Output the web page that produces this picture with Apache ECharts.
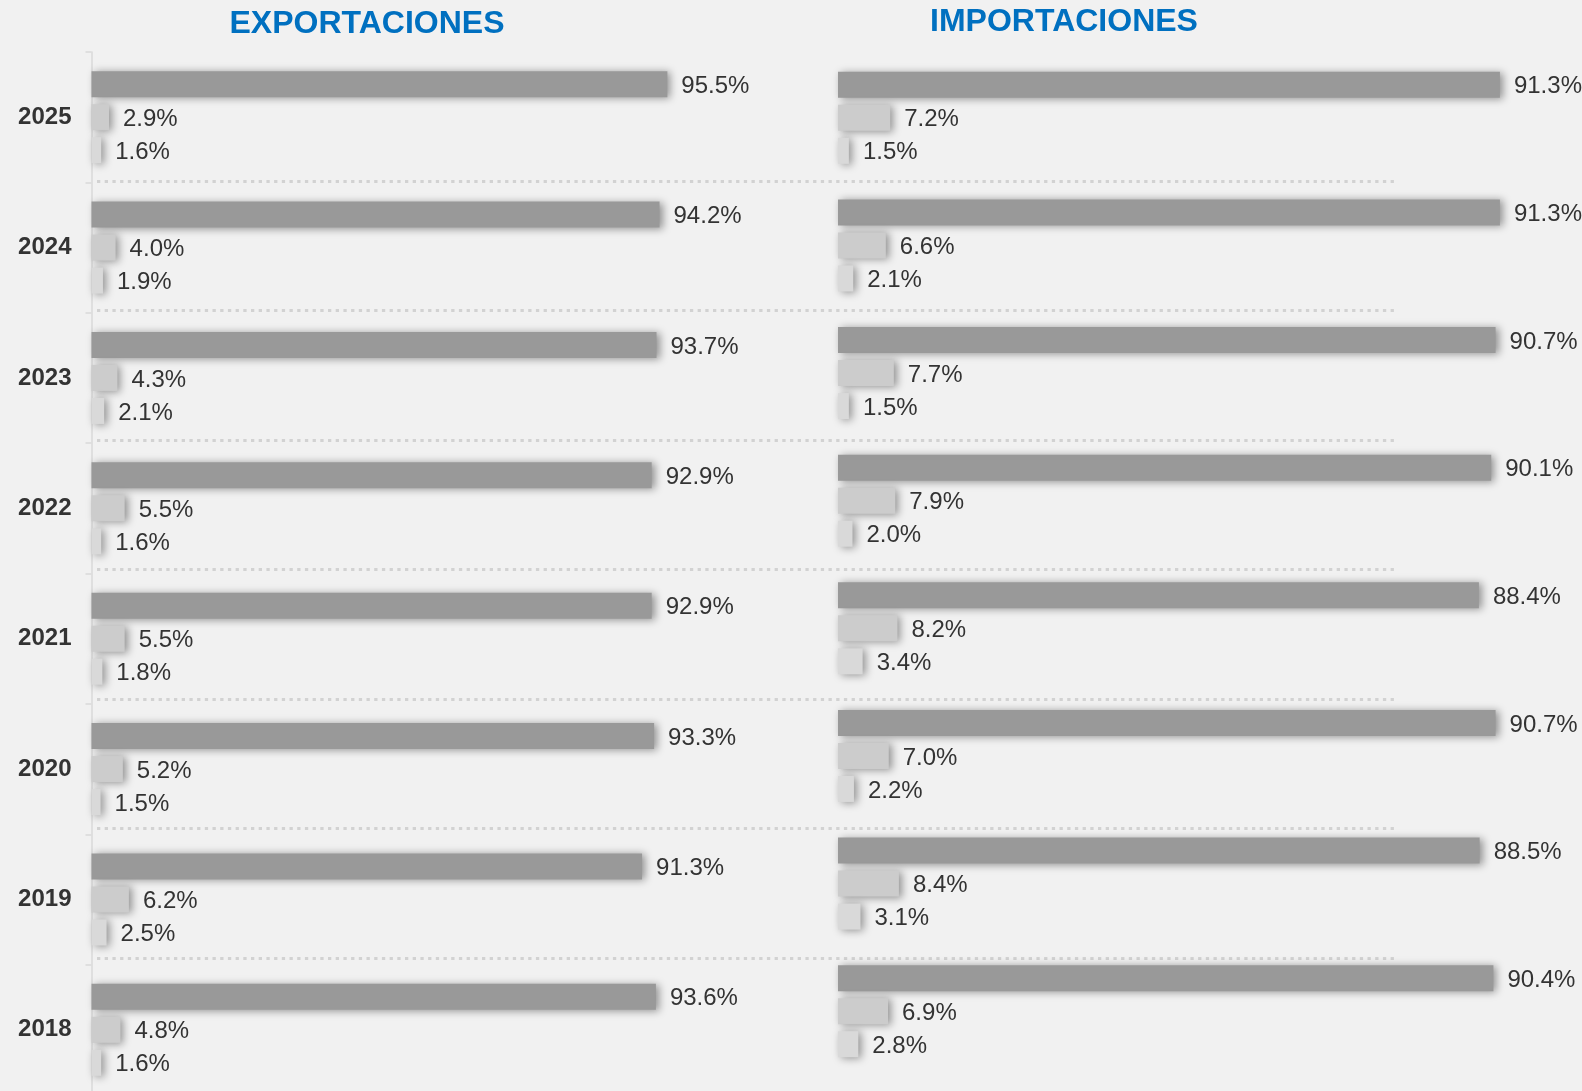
<!DOCTYPE html>
<html>
<head>
<meta charset="utf-8">
<title>Exportaciones e Importaciones</title>
<script src="https://cdn.jsdelivr.net/npm/echarts@6/dist/echarts.min.js"></script>
<style>
  html, body { margin: 0; padding: 0; background: #f1f1f1; overflow: hidden; }
  #chart { width: 1582px; height: 1110px; }
</style>
</head>
<body>
<div id="chart"></div>
<script>
// years, top to bottom
const years = ['2025', '2024', '2023', '2022', '2021', '2020', '2019', '2018'];

// exportaciones (%)
const expMain = [95.5, 94.2, 93.7, 92.9, 92.9, 93.3, 91.3, 93.6];
const expSecond = [2.9, 4.0, 4.3, 5.5, 5.5, 5.2, 6.2, 4.8];
const expThird = [1.6, 1.9, 2.1, 1.6, 1.8, 1.5, 2.5, 1.6];

// importaciones (%)
const impMain = [91.3, 91.3, 90.7, 90.1, 88.4, 90.7, 88.5, 90.4];
const impSecond = [7.2, 6.6, 7.7, 7.9, 8.2, 7.0, 8.4, 6.9];
const impThird = [1.5, 2.1, 1.5, 2.0, 3.4, 2.2, 3.1, 2.8];

const colors = ['#999999', '#cccccc', '#d9d9d9'];
const font = 'Liberation Sans, Arial, sans-serif';

const chart = echarts.init(document.getElementById('chart'));

function barSeries(data, color, axisIndex) {
	return {
		type: 'bar',
		xAxisIndex: axisIndex,
		yAxisIndex: axisIndex,
		data: data,
		barWidth: 26,
		barGap: '27%',
		itemStyle: {
			color: color,
			shadowBlur: 8,
			shadowColor: 'rgba(0, 0, 0, 0.4)',
			shadowOffsetX: 3,
			shadowOffsetY: 1
		},
		label: {
			show: true,
			position: 'right',
			distance: 14,
			offset: [0, 2],
			fontFamily: font,
			fontSize: 24,
			color: '#333333',
			formatter: function (p) {
				return p.value.toFixed(1) + '%';
			}
		},
		animation: false
	};
}

const option = {
	backgroundColor: '#f1f1f1',
	title: [
		{
			text: 'EXPORTACIONES',
			left: 362,
			top: 3,
			textAlign: 'center',
			textStyle: { fontFamily: font, fontSize: 32, fontWeight: 'bold', color: '#0070c0' }
		},
		{
			text: 'IMPORTACIONES',
			left: 1059,
			top: 1,
			textAlign: 'center',
			textStyle: { fontFamily: font, fontSize: 32, fontWeight: 'bold', color: '#0070c0' }
		}
	],
	grid: [
		{ left: 91.5, top: 52, width: 603, height: 1043 },
		{ left: 838, top: 54, width: 725, height: 1021 },
		// separators between year groups
		{ left: 97, top: 181, width: 1301, height: 777 }
	],
	xAxis: [
		{ gridIndex: 0, type: 'value', min: 0, max: 100, show: false },
		{ gridIndex: 1, type: 'value', min: 0, max: 100, show: false },
		{ gridIndex: 2, type: 'value', min: 0, max: 100, show: false }
	],
	yAxis: [
		{
			gridIndex: 0,
			type: 'category',
			data: years,
			inverse: true,
			axisLine: { show: true, lineStyle: { color: '#d9d9d9', width: 1.5 } },
			axisTick: { show: true, length: 6, lineStyle: { color: '#d9d9d9', width: 1.5 } },
			axisLabel: {
				margin: 20,
				fontFamily: font,
				fontSize: 24,
				fontWeight: 'bold',
				color: '#333333'
			},
			splitLine: { show: false }
		},
		{
			gridIndex: 1,
			type: 'category',
			data: years,
			inverse: true,
			axisLine: { show: false },
			axisTick: { show: false },
			axisLabel: { show: false },
			splitLine: { show: false }
		},
		{
			gridIndex: 2,
			type: 'category',
			data: years.slice(0, 7),
			boundaryGap: false,
			inverse: true,
			axisLine: { show: false },
			axisTick: { show: false },
			axisLabel: { show: false },
			splitLine: {
				show: true,
				lineStyle: { color: '#d2d2d2', width: 3, type: [3.3, 4.4] }
			}
		}
	],
	series: [
		barSeries(expMain, colors[0], 0),
		barSeries(expSecond, colors[1], 0),
		barSeries(expThird, colors[2], 0),
		barSeries(impMain, colors[0], 1),
		barSeries(impSecond, colors[1], 1),
		barSeries(impThird, colors[2], 1)
	]
};

chart.setOption(option);
</script>
</body>
</html>
